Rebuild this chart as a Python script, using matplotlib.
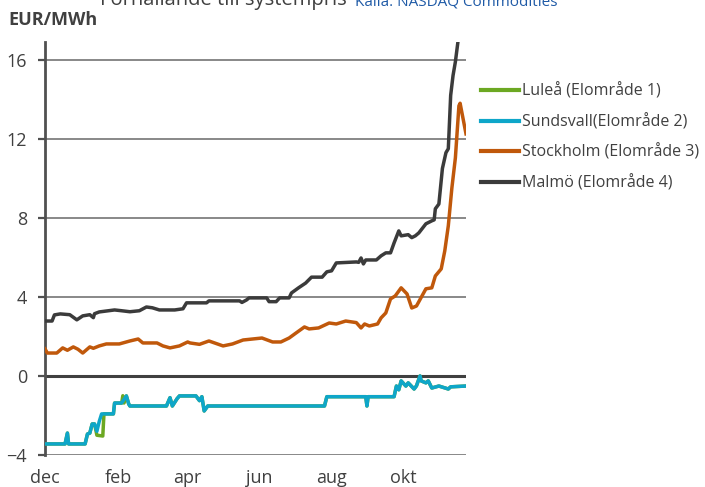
import matplotlib
matplotlib.use('Agg')
import matplotlib.pyplot as plt

# Dagar räknat från 1 december, pris relativt systempris (EUR/MWh)
malmo_dag = [0, 6, 8, 13, 21, 27, 32, 38, 41, 42, 46, 59, 65, 72, 80, 86, 91, 97, 110, 117, 120,
             137, 139, 165, 167, 171, 173, 188, 190, 196, 199, 207, 209, 215, 221, 226, 235, 239,
             243, 247, 264, 266, 268, 270, 272, 281, 285, 289, 293, 296, 300, 302, 308, 311, 314,
             317, 323, 328, 330, 331, 334, 337, 340, 342, 344, 346, 348, 351, 357]
malmo = [2.78, 2.78, 3.09, 3.14, 3.10, 2.84, 3.04, 3.10, 2.95, 3.15, 3.24, 3.34, 3.30, 3.25, 3.30,
         3.49, 3.45, 3.34, 3.34, 3.40, 3.70, 3.70, 3.80, 3.80, 3.72, 3.85, 3.95, 3.95, 3.76, 3.76,
         3.95, 3.95, 4.20, 4.46, 4.70, 5.00, 5.00, 5.27, 5.32, 5.72, 5.77, 5.75, 5.97, 5.67, 5.87,
         5.87, 6.08, 6.23, 6.23, 6.73, 7.34, 7.09, 7.15, 7.00, 7.09, 7.24, 7.70, 7.85, 7.90, 8.46,
         8.70, 10.5, 11.3, 11.5, 14.2, 15.2, 15.9, 17.3, 18.0]

sthlm_dag = [0, 2, 10, 15, 19, 24, 28, 32, 38, 41, 46, 52, 63, 72, 79, 83, 95, 100, 106, 114, 121,
             123, 131, 139, 151, 159, 168, 176, 184, 193, 200, 207, 213, 220, 224, 232, 241, 247,
             255, 264, 268, 271, 275, 282, 285, 289, 293, 297, 302, 307, 311, 315, 323, 328, 331,
             336, 339, 342, 345, 348, 351, 352, 357]
sthlm = [1.37, 1.16, 1.16, 1.42, 1.30, 1.47, 1.35, 1.16, 1.47, 1.40, 1.52, 1.62, 1.62, 1.77, 1.87,
         1.67, 1.67, 1.52, 1.42, 1.52, 1.72, 1.67, 1.60, 1.77, 1.52, 1.62, 1.82, 1.87, 1.92, 1.72,
         1.72, 1.92, 2.18, 2.48, 2.38, 2.43, 2.68, 2.63, 2.78, 2.70, 2.43, 2.63, 2.53, 2.63, 2.94,
         3.19, 3.90, 4.05, 4.46, 4.15, 3.44, 3.54, 4.41, 4.46, 5.06, 5.42, 6.33, 7.60, 9.50, 11.04,
         13.67, 13.80, 12.25]

sundsvall_dag = [0, 17, 19, 20, 34, 36, 38, 40, 42, 44, 46, 48, 58, 59, 65, 69, 71, 72, 103, 106,
                 108, 112, 114, 128, 131, 133, 135, 138, 237, 239, 272, 273, 274, 296, 298, 300,
                 302, 306, 308, 313, 315, 318, 319, 323, 325, 328, 334, 342, 344, 357]
sundsvall = [-3.44, -3.44, -2.89, -3.44, -3.44, -2.94, -2.89, -2.43, -2.43, -2.80, -2.30, -1.92,
             -1.92, -1.37, -1.37, -1.01, -1.42, -1.52, -1.52, -1.10, -1.52, -1.15, -1.01, -1.01,
             -1.25, -1.05, -1.77, -1.52, -1.52, -1.05, -1.05, -1.52, -1.05, -1.05, -0.51, -0.70,
             -0.25, -0.51, -0.35, -0.66, -0.50, 0.00, -0.25, -0.35, -0.25, -0.61, -0.51, -0.66,
             -0.55, -0.51]

lulea_dag = [0, 17, 19, 20, 34, 36, 38, 40, 42, 44, 49, 50, 58, 59, 65, 66, 67, 69, 71, 72, 103,
             106, 108, 112, 114, 128, 131, 133, 135, 138, 237, 239, 272, 273, 274, 296, 298, 300,
             302, 306, 308, 313, 315, 318, 319, 323, 325, 328, 334, 342, 344, 357]
lulea = [-3.44, -3.44, -2.89, -3.44, -3.44, -2.94, -2.89, -2.43, -2.43, -3.00, -3.04, -1.92,
         -1.92, -1.37, -1.37, -1.00, -1.37, -1.01, -1.42, -1.52, -1.52, -1.10, -1.52, -1.15, -1.01,
         -1.01, -1.25, -1.05, -1.77, -1.52, -1.52, -1.05, -1.05, -1.52, -1.05, -1.05, -0.51,
         -0.70, -0.25, -0.51, -0.35, -0.66, -0.50, 0.00, -0.25, -0.35, -0.25, -0.61, -0.51,
         -0.66, -0.55, -0.51]

manad_dag = [0, 62, 121, 182, 243, 304]
manad = ['dec', 'feb', 'apr', 'jun', 'aug', 'okt']
y_ticks = [-4, 0, 4, 8, 12, 16]

etiketter = ['Luleå (Elområde 1)', 'Sundsvall(Elområde 2)', 'Stockholm (Elområde 3)', 'Malmö (Elområde 4)']
farger = ['#6ca822', '#0ea6c9', '#c0580b', '#3b3b3b']

plt.rcParams['font.family'] = ['Open Sans', 'DejaVu Sans']

fig = plt.figure(figsize=(7.05, 4.87), dpi=100)
ax = fig.add_axes([45 / 705, 1 - 455 / 487, 421 / 705, 413 / 487])

for y in y_ticks:
    if y == 0:
        continue
    ax.axhline(y, color='#7f7f7f', lw=1.3, zorder=1)
ax.axhline(0, color='#404040', lw=2.2, zorder=1)

serier = [(lulea_dag, lulea), (sundsvall_dag, sundsvall), (sthlm_dag, sthlm), (malmo_dag, malmo)]
for (d, v), lab, c in zip(serier, etiketter, farger):
    ax.plot(d, v, color=c, lw=2.5, label=lab, zorder=3, solid_joinstyle='round')

ax.set_xlim(0, 357)
ax.set_ylim(-4, 16.9)
ax.set_xticks(manad_dag)
ax.set_xticklabels(manad)
ax.set_yticks(y_ticks)

for s in ['top', 'right', 'bottom']:
    ax.spines[s].set_visible(False)
ax.spines['left'].set_color('#505050')
ax.spines['left'].set_linewidth(2)
ax.tick_params(axis='y', length=5, width=1.6, color='#505050', labelsize=13,
               labelcolor='#404040', pad=8)
ax.tick_params(axis='x', length=0, labelsize=13, labelcolor='#404040', pad=10)

leg = ax.legend(loc='upper left', bbox_to_anchor=(1.035, 0.90), frameon=False,
                fontsize=11.5, handlelength=2.4, handletextpad=0.2, labelspacing=0.88,
                borderaxespad=0, borderpad=0)
for t in leg.get_texts():
    t.set_color('#404040')
for h in leg.legend_handles:
    h.set_linewidth(3)

fig.text(100 / 705, 1 - 5 / 487, 'Förhållande till systempris', fontsize=14.5,
         color='#404040', va='baseline', ha='left')
fig.text(355 / 705, 1 - 5 / 487, 'Källa: NASDAQ Commodities', fontsize=11,
         color='#1f5aa6', va='baseline', ha='left')
fig.text(8 / 705, 1 - 25 / 487, 'EUR/MWh', fontsize=13, fontweight='bold',
         color='#404040', va='baseline', ha='left')

fig.savefig('out.png', dpi=100)
